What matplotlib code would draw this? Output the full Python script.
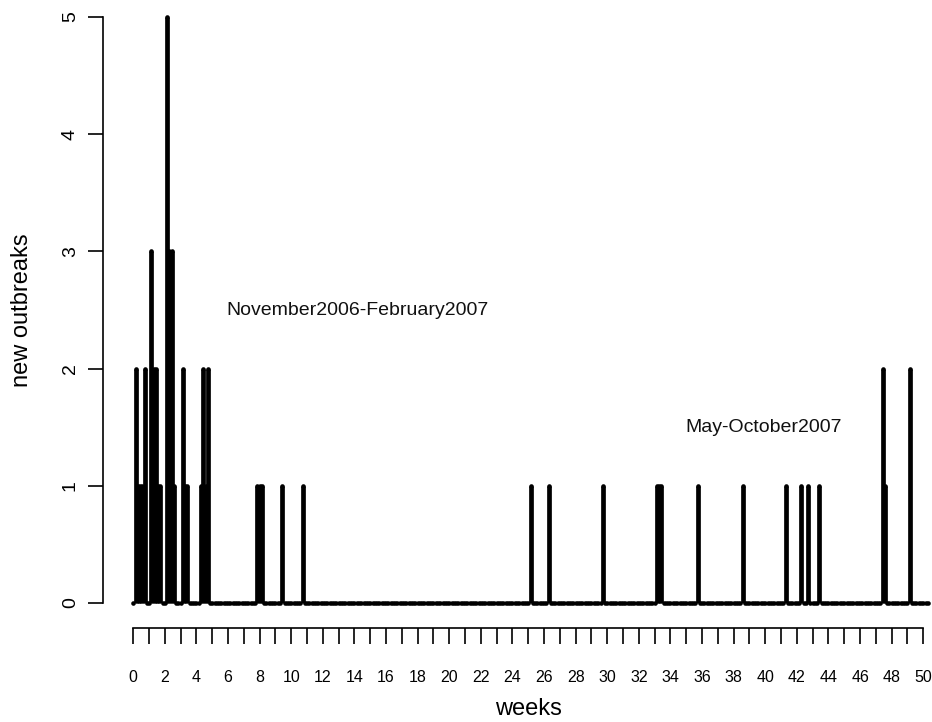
import matplotlib
matplotlib.use('Agg')
import matplotlib.pyplot as plt
import numpy as np

# ---- data ----
n_days = 353  # daily observations, plotted in weeks
outbreak_days = [1, 2, 3, 4, 5,
                 8, 9, 10, 11, 12,
                 15, 16, 17, 18,
                 22, 23, 24,
                 30, 31, 32, 33,
                 55, 56, 57,
                 66, 75,
                 176, 184, 208,
                 232, 233, 234,
                 250, 270, 289, 296, 299, 304,
                 332, 333, 344]
outbreak_counts = [2, 1, 1, 1, 2,
                   3, 2, 2, 1, 1,
                   5, 3, 3, 1,
                   2, 1, 1,
                   1, 2, 1, 2,
                   1, 1, 1,
                   1, 1,
                   1, 1, 1,
                   1, 1, 1,
                   1, 1, 1, 1, 1, 1,
                   2, 1, 2]
x_ticks = list(range(0, 51))
x_tick_labels = [str(i) if i % 2 == 0 else '' for i in x_ticks]
y_ticks = [0, 1, 2, 3, 4, 5]
annotations = [(14.2, 2.5, 'November2006-February2007'),
               (39.9, 1.5, 'May-October2007')]

days = np.arange(n_days)
counts = np.zeros(n_days)
counts[outbreak_days] = outbreak_counts
weeks = days / 7.0

plt.rcParams['font.family'] = ['Liberation Sans', 'DejaVu Sans']

W, H = 932, 722
fig = plt.figure(figsize=(W / 100, H / 100), dpi=100)
ax_left_px, ax_w_px = 120.66, 810.5
ax_top_px, ax_h_px = 2.98, 617.6
ax = fig.add_axes([ax_left_px / W, 1 - (ax_top_px + ax_h_px) / H, ax_w_px / W, ax_h_px / H])
ax.set_xlim(-0.8, 50.5)
ax.set_ylim(-0.15, 5.12)

ax.vlines(weeks, 0, counts, colors='black', linewidth=3.4, capstyle='butt')
ax.plot(weeks, counts, linestyle='none', marker='o', markersize=3.3,
        markeredgewidth=0, color='black', clip_on=False)

for x, y, s in annotations:
    ax.text(x, y, s, ha='center', va='center', fontsize=14, color='#111111')

for side in ('top', 'right'):
    ax.spines[side].set_visible(False)
ax.spines['left'].set_position(('outward', 12.7))
ax.spines['left'].set_bounds(0, 5)
ax.spines['bottom'].set_position(('outward', 5.3))
ax.spines['bottom'].set_bounds(0, 50)
for side in ('left', 'bottom'):
    ax.spines[side].set_linewidth(1.2)

ax.set_xticks(x_ticks)
ax.set_xticklabels(x_tick_labels)
ax.set_yticks(y_ticks)
ax.set_yticklabels([str(v) for v in y_ticks])
ax.tick_params(axis='x', length=11.5, width=1.2, pad=18.5, labelsize=11.5)
ax.tick_params(axis='y', length=10.8, width=1.2, pad=6.5, labelsize=14)
for lbl in ax.get_yticklabels():
    lbl.set_rotation(90)
    lbl.set_va('center')

ax.set_xlabel('weeks', fontsize=17)
ax.xaxis.set_label_coords((528 - ax_left_px) / ax_w_px, (ax_top_px + ax_h_px - 709) / ax_h_px)
ax.xaxis.label.set_va('center')
ax.set_ylabel('new outbreaks', fontsize=17)
ax.yaxis.set_label_coords((22 - ax_left_px) / ax_w_px, (ax_top_px + ax_h_px - 310) / ax_h_px)
ax.yaxis.label.set_va('center')

fig.savefig('out.png', dpi=100)
